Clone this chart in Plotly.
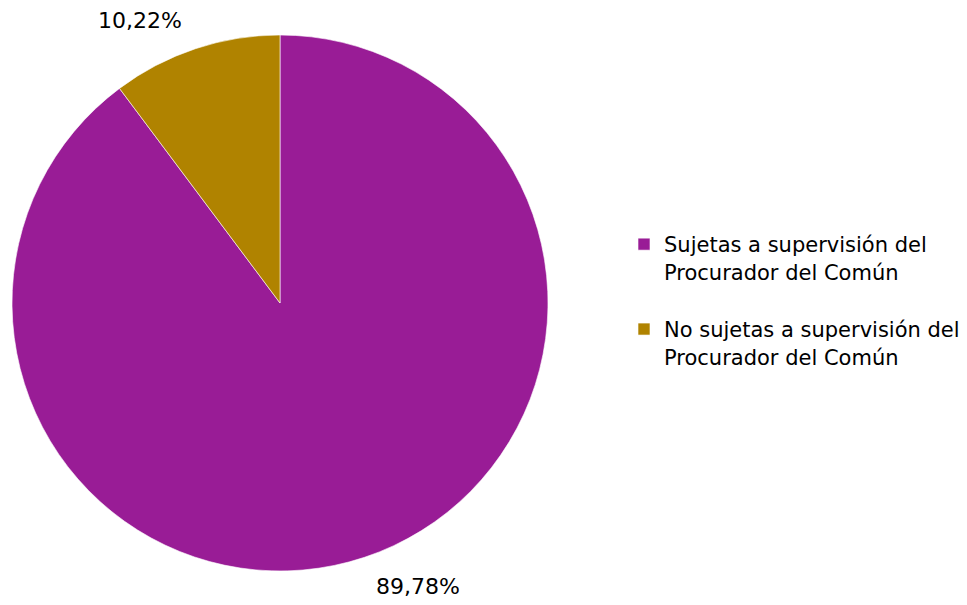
import plotly.graph_objects as go

# Share of entities by supervision status
labels = [
    "Sujetas a supervisión del<br>Procurador del Común<br> ",
    "No sujetas a supervisión del<br>Procurador del Común<br> ",
]
values = [89.78, 10.22]
colors = ["#991C96", "#B08300"]

W, H = 967, 605
FONT = "Tahoma, DejaVu Sans, sans-serif"

fig = go.Figure(
    go.Pie(
        labels=labels,
        values=values,
        sort=False,
        direction="clockwise",
        rotation=0,
        marker=dict(colors=colors, line=dict(color="white", width=0.6)),
        textinfo="none",
        hoverinfo="label+percent",
        domain=dict(x=[12 / W, 548 / W], y=[1 - 571 / H, 1 - 35 / H]),
    )
)

def pct(v):
    return f"{v:.2f}".replace(".", ",") + "%"

# Value labels placed outside the pie
label_pos = [(418, 586), (140, 20)]
for v, (px, py) in zip(values, label_pos):
    fig.add_annotation(
        x=px / W, y=1 - py / H, xref="paper", yref="paper",
        text=pct(v), showarrow=False,
        font=dict(family=FONT, size=22, color="#000000"),
        xanchor="center", yanchor="middle",
    )

fig.update_layout(
    width=W, height=H,
    margin=dict(l=0, r=0, t=0, b=0),
    paper_bgcolor="white",
    plot_bgcolor="white",
    showlegend=True,
    legend=dict(
        x=624 / W, y=1 - 224 / H, xanchor="left", yanchor="top",
        font=dict(family=FONT, size=21, color="#000000"),
        valign="top",
        bgcolor="rgba(0,0,0,0)",
    ),
)

fig.write_html("out.html")
